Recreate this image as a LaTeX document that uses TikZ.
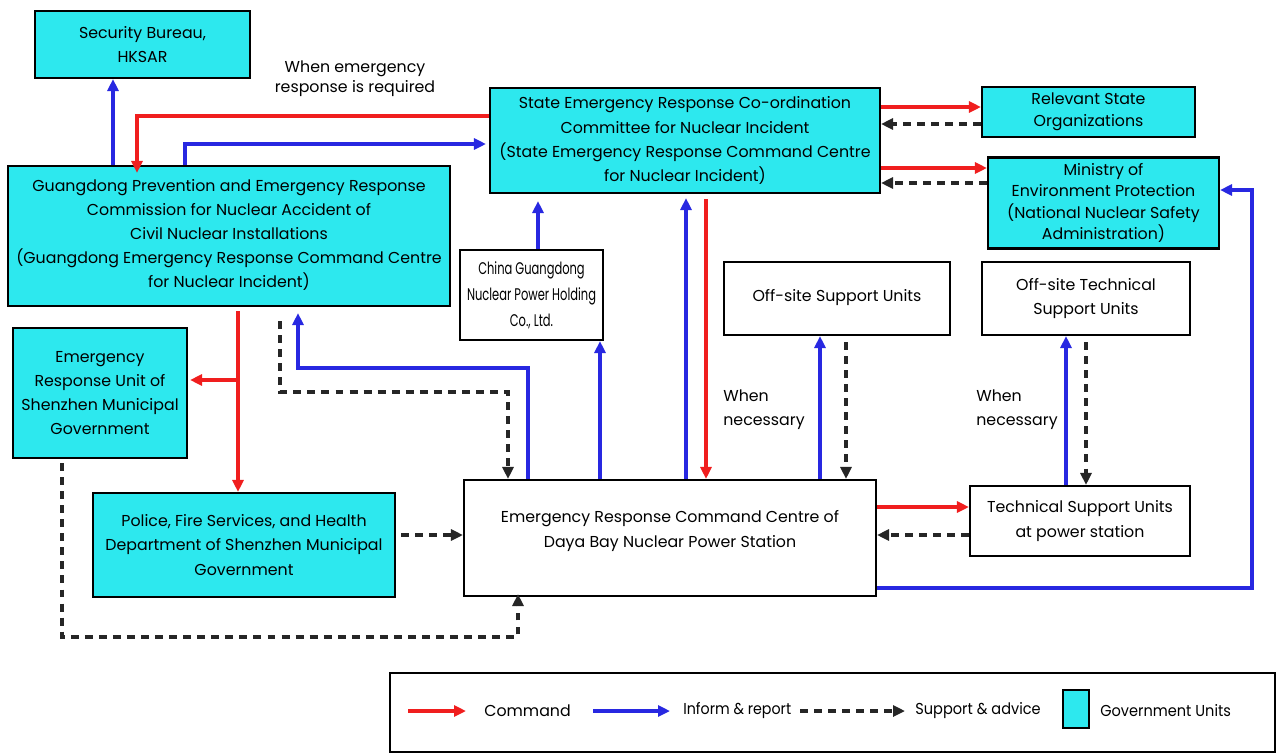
\documentclass[tikz,border=0pt]{standalone}
\usepackage{fontspec}
\usepackage{graphicx}
\setmainfont{Poppins}
\usetikzlibrary{arrows.meta}
\definecolor{gov}{RGB}{45,232,238}
\definecolor{cred}{RGB}{240,30,30}
\definecolor{cblue}{RGB}{40,40,225}
\tikzset{
  box/.style={draw=black, line width=1.2pt, align=center, inner sep=1pt, font=\fontsize{9}{13.7}\selectfont},
  govbox/.style={box, fill=gov},
  wbox/.style={box, fill=white},
  txt/.style={align=left, inner sep=0pt, font=\fontsize{9}{13.7}\selectfont},
  cmd/.style={draw=cred, line width=1.8pt, -{Triangle[length=2.4mm,width=2.2mm]}},
  inf/.style={draw=cblue, line width=1.8pt, -{Triangle[length=2.4mm,width=2.2mm]}},
  sup/.style={draw=black!85, line width=1.8pt, dash pattern=on 4.5pt off 3.5pt, -{Triangle[length=2.4mm,width=2.2mm]}}
}
\begin{document}
\begin{tikzpicture}[x=0.02cm,y=-0.02cm]
\useasboundingbox (0,0) rectangle (1277,754);
% boxes
\node[govbox, minimum width=4.30cm, minimum height=1.34cm] (sec) at (142.5,44.5) {Security Bureau,\\HKSAR};
\node[govbox, minimum width=8.84cm, minimum height=2.80cm, text depth=0.1cm] (gd) at (229,236) {Guangdong Prevention and Emergency Response\\Commission for Nuclear Accident of\\Civil Nuclear Installations\\(Guangdong Emergency Response Command Centre\\for Nuclear Incident)};
\node[govbox, minimum width=7.80cm, minimum height=2.10cm] (st) at (685,140.5) {State Emergency Response Co-ordination\\Committee for Nuclear Incident\\(State Emergency Response Command Centre\\for Nuclear Incident)};
\node[govbox, minimum width=4.26cm, minimum height=1.00cm, font=\fontsize{9}{12.6}\selectfont] (rel) at (1088.5,112) {Relevant State\\Organizations};
\node[govbox, minimum width=4.62cm, minimum height=1.82cm, font=\fontsize{9}{12.2}\selectfont] (min) at (1103.5,203) {Ministry of\\Environment Protection\\(National Nuclear Safety\\Administration)};
\node[wbox, minimum width=2.86cm, minimum height=1.80cm, font=\fontsize{9.6}{14.8}\selectfont] (cg) at (531.5,295) {\scalebox{0.68}[1]{China Guangdong}\\\scalebox{0.68}[1]{Nuclear Power Holding}\\\scalebox{0.68}[1]{Co., Ltd.}};
\node[wbox, minimum width=4.52cm, minimum height=1.46cm] (osu) at (837,298.5) {\raisebox{4pt}{Off-site Support Units}};
\node[wbox, minimum width=4.16cm, minimum height=1.46cm] (otu) at (1086,298.5) {Off-site Technical\\Support Units};
\node[govbox, minimum width=3.48cm, minimum height=2.60cm] (szu) at (100,393) {Emergency\\Response Unit of\\Shenzhen Municipal\\Government};
\node[govbox, minimum width=6.04cm, minimum height=2.08cm] (pol) at (244,545) {Police, Fire Services, and Health\\Department of Shenzhen Municipal\\Government};
\node[wbox, minimum width=8.24cm, minimum height=2.32cm] (dy) at (670,538) {};
\node[txt, align=center] (dyt) at (670,531) {Emergency Response Command Centre of\\Daya Bay Nuclear Power Station};
\node[wbox, minimum width=4.40cm, minimum height=1.40cm] (tsu) at (1080,521) {Technical Support Units\\at power station};
% labels
\node[txt, align=center, font=\fontsize{9}{11.6}\selectfont] (lemg) at (355,79) {When emergency\\response is required};
\node[txt, anchor=west] (lwn1) at (723,410) {When\\necessary};
\node[txt, anchor=west] (lwn2) at (976,410) {When\\necessary};
% connectors
\draw[inf] (113,0 |- gd.north) -- (113,0 |- sec.south);
\draw[cmd] (st.west |- 0,116) -| ([yshift=-0.16cm]137,0 |- gd.north);
\draw[inf] (185,0 |- gd.north) |- ([xshift=-0.06cm]st.west |- 0,144);
\draw[cmd] (st.east |- 0,107) -- (rel.west |- 0,107);
\draw[sup] (rel.west |- 0,124) -- (st.east |- 0,124);
\draw[cmd] (st.east |- 0,168) -- (min.west |- 0,168);
\draw[sup] (min.west |- 0,183) -- (st.east |- 0,183);
\draw[inf] (538,0 |- cg.north) -- ([yshift=-0.14cm]538,0 |- st.south);
\draw[inf] (686,0 |- dy.north) -- ([yshift=-0.08cm]686,0 |- st.south);
\draw[cmd] ([yshift=-0.1cm]706,0 |- st.south) -- (706,0 |- dy.north);
\draw[cmd] ([yshift=-0.08cm]238,0 |- gd.south) -- (238,0 |- pol.north);
\draw[cmd] (238,380) -- ([xshift=0.04cm]szu.east |- 0,380);
\draw[inf] (528,0 |- dy.north) |- (298,368) -- ([yshift=-0.12cm]298,0 |- gd.south);
\draw[sup] ([yshift=-0.28cm]280,0 |- gd.south) |- (508,392) -- (508,0 |- dy.north);
\draw[inf] (600,0 |- dy.north) -- (600,0 |- cg.south);
\draw[inf] (820,0 |- dy.north) -- (820,0 |- osu.south);
\draw[sup] ([yshift=-0.12cm]846,0 |- osu.south) -- (846,0 |- dy.north);
\draw[inf] (1066,0 |- tsu.north) -- (1066,0 |- otu.south);
\draw[sup] ([yshift=-0.12cm]1086,0 |- otu.south) -- (1086,0 |- tsu.north);
\draw[cmd] (dy.east |- 0,507) -- (tsu.west |- 0,507);
\draw[sup] (tsu.west |- 0,535) -- (dy.east |- 0,535);
\draw[inf] (dy.east |- 0,588) -| (1252,230) |- (min.east |- 0,190);
\draw[sup] ([xshift=0.1cm]pol.east |- 0,535) -- (dy.west |- 0,535);
\draw[sup] ([yshift=-0.08cm]62,0 |- szu.south) |- (518,637) -- ([yshift=0.06cm]518,0 |- dy.south);
% legend
\node[draw=black, line width=1pt, minimum width=17.70cm, minimum height=1.58cm] (leg) at (832.5,712.5) {};
\coordinate (lc1) at (408,711); \coordinate (lc2) at (466,711);
\draw[cmd] (lc1) -- (lc2);
\node[txt, anchor=west] (lt1) at (484,711) {Command};
\coordinate (li1) at (593,711); \coordinate (li2) at (670,711);
\draw[inf] (li1) -- (li2);
\node[txt, anchor=west] (lt2) at (683,711) {\scalebox{0.9}[1]{Inform \& report}};
\coordinate (ls1) at (800,711); \coordinate (ls2) at (905,711);
\draw[sup] (ls1) -- (ls2);
\node[txt, anchor=west] (lt3) at (915,711) {\scalebox{0.92}[1]{Support \& advice}};
\node[govbox, minimum width=0.52cm, minimum height=0.76cm, inner sep=0pt] (lgov) at (1076,709) {};
\node[txt, anchor=west] (lt4) at (1100,711) {\scalebox{0.92}[1]{Government Units}};
\end{tikzpicture}
\end{document}
